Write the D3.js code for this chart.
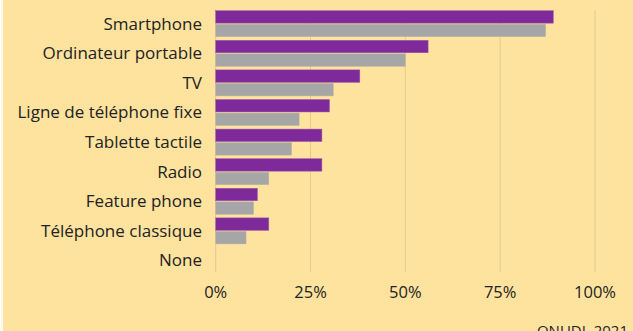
<!DOCTYPE html>
<html>
<head>
<meta charset="utf-8">
<style>
  body { margin: 0; background: #fee39f; }
  svg { display: block; font-family: "Open Sans", sans-serif; }
</style>
</head>
<body>
<svg id="chart" width="633" height="331"></svg>
<script src="https://cdnjs.cloudflare.com/ajax/libs/d3/7.8.5/d3.min.js"></script>
<script>
// categories (top to bottom) and the two series, in percent
const categories = ["Smartphone", "Ordinateur portable", "TV", "Ligne de téléphone fixe",
  "Tablette tactile", "Radio", "Feature phone", "Téléphone classique", "None"];
const seriesA = [89, 56, 38, 30, 28, 28, 11, 14, 0];   // purple
const seriesB = [87, 50, 31, 22, 20, 14, 10, 8, 0];    // grey
const ticks = [0, 25, 50, 75, 100];
const credit = "ONUDI, 2021";

const width = 633, height = 331;
const svg = d3.select("#chart");

svg.append("rect").attr("width", width).attr("height", height).attr("fill", "#fee39f");
svg.append("rect").attr("width", 3).attr("height", height).attr("fill", "#fffaf0");

const x = d3.scaleLinear().domain([0, 100]).range([215.7, 595]);
const y = d3.scaleBand().domain(categories).range([8.9, 275.3]).paddingInner(0.12).paddingOuter(0.06);
const sub = d3.scaleBand().domain(["a", "b"]).range([0, y.bandwidth()]).paddingInner(0.08);

// gridlines
svg.append("g").selectAll("line").data(ticks).join("line")
  .attr("x1", d => x(d)).attr("x2", d => x(d))
  .attr("y1", 10).attr("y2", 272)
  .attr("stroke", "#e3cb8c").attr("stroke-width", 1);

// bars
const rows = categories.map((c, i) => ({ c, a: seriesA[i], b: seriesB[i] }));
const g = svg.append("g");
g.selectAll("rect.a").data(rows).join("rect")
  .attr("x", x(0)).attr("y", d => y(d.c) + sub("a"))
  .attr("width", d => x(d.a) - x(0)).attr("height", sub.bandwidth())
  .attr("fill", "#7f2a9b").attr("stroke", "#a05ab0").attr("stroke-width", 0.5);
g.selectAll("rect.b").data(rows).join("rect")
  .attr("x", x(0)).attr("y", d => y(d.c) + sub("b"))
  .attr("width", d => x(d.b) - x(0)).attr("height", sub.bandwidth())
  .attr("fill", "#a6a6a6").attr("stroke", "#bcb5a0").attr("stroke-width", 0.5);

// category labels
svg.append("g").selectAll("text").data(categories).join("text")
  .attr("x", 202).attr("y", d => y(d) + y.bandwidth() / 2)
  .attr("dy", "0.35em").attr("text-anchor", "end")
  .attr("font-size", 17).attr("fill", "#222")
  .text(d => d);

// x axis tick labels
svg.append("g").selectAll("text").data(ticks).join("text")
  .attr("x", d => x(d)).attr("y", 292)
  .attr("dy", "0.35em").attr("text-anchor", "middle")
  .attr("font-size", 16.5).attr("fill", "#222")
  .text(d => d + "%");

// source credit, partly cut by the bottom edge as in the original
svg.append("text").attr("x", 628).attr("y", 335.5).attr("text-anchor", "end")
  .attr("font-size", 15).attr("fill", "#222").text(credit);
</script>
</body>
</html>
